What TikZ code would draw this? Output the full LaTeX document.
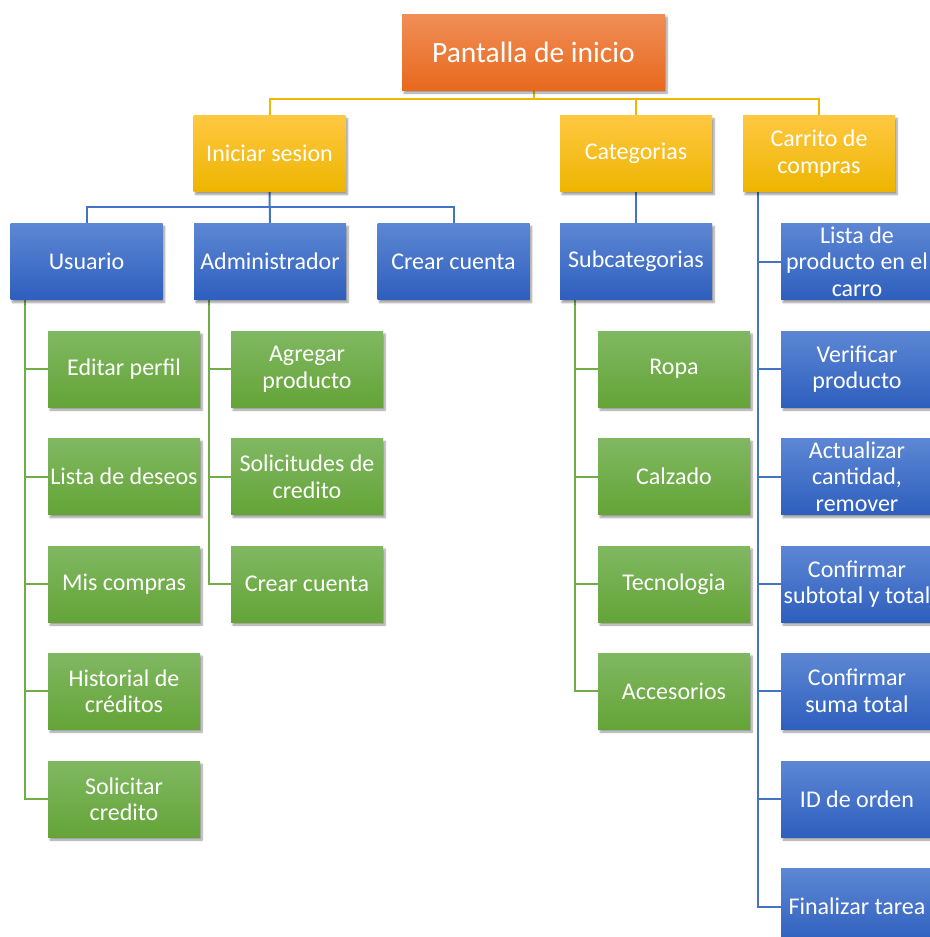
\documentclass[tikz,border=0pt]{standalone}
\usepackage{fontspec}
\setmainfont{Carlito}
\usetikzlibrary{calc,shadows.blur}
\pgfdeclarelayer{background}
\pgfsetlayers{background,main}

\definecolor{orgT}{HTML}{F08E57}
\definecolor{orgB}{HTML}{E8691D}
\definecolor{yelT}{HTML}{FFC842}
\definecolor{yelB}{HTML}{EDB500}
\definecolor{bluT}{HTML}{5D87D4}
\definecolor{bluB}{HTML}{2E5FBE}
\definecolor{grnT}{HTML}{80B862}
\definecolor{grnB}{HTML}{64A437}
\definecolor{goldline}{HTML}{F2B800}
\definecolor{blueline}{HTML}{4472C4}
\definecolor{greenline}{HTML}{70AD47}

\tikzset{
  x=1pt, y=-1pt,
  box/.style={rectangle, minimum width=152pt, minimum height=76pt,
    inner sep=1pt, align=center, text=white,
    font=\fontsize{24}{26.5}\selectfont,
    blur shadow={shadow xshift=2pt, shadow yshift=-3pt,
      shadow blur steps=6, shadow opacity=40}},
  orgbox/.style={box, top color=orgT, bottom color=orgB,
    minimum width=263pt, font=\fontsize{29.5}{32}\selectfont},
  yelbox/.style={box, top color=yelT, bottom color=yelB},
  blubox/.style={box, top color=bluT, bottom color=bluB},
  grnbox/.style={box, top color=grnT, bottom color=grnB},
  goldconn/.style={draw=goldline, line width=2pt},
  blueconn/.style={draw=blueline, line width=2pt},
  greenconn/.style={draw=greenline, line width=2pt},
}

\begin{document}
\begin{tikzpicture}
\useasboundingbox (0,0) rectangle (929,937);

% root and first level
\node[orgbox] (root) at (533.5,52) {Pantalla de inicio};
\node[yelbox] (ini) at (269.5,153.5) {Iniciar sesion};
\node[yelbox] (cat) at (636,153.5) {Categorias};
\node[yelbox] (car) at (819,153.5) {Carrito de\\compras};

% second level
\node[blubox] (usu) at (86.5,261.5) {Usuario};
\node[blubox] (adm) at (270,261.5) {Administrador};
\node[blubox] (crc) at (453.5,261.5) {Crear cuenta};
\node[blubox] (sub) at (636,261.5) {Subcategorias};

% user branch
\node[grnbox] (e1) at (124,369) {Editar perfil};
\node[grnbox] (e2) at (124,476.5) {Lista de deseos};
\node[grnbox] (e3) at (124,584) {Mis compras};
\node[grnbox] (e4) at (124,691) {Historial de\\créditos};
\node[grnbox] (e5) at (124,799) {Solicitar\\credito};

% admin branch
\node[grnbox] (a1) at (307,369) {Agregar\\producto};
\node[grnbox] (a2) at (307,476.5) {Solicitudes de\\credito};
\node[grnbox] (a3) at (307,584) {Crear cuenta};

% subcategories
\node[grnbox] (s1) at (674,369) {Ropa};
\node[grnbox] (s2) at (674,476.5) {Calzado};
\node[grnbox] (s3) at (674,584) {Tecnologia};
\node[grnbox] (s4) at (674,691) {Accesorios};

% cart steps
\node[blubox] (c1) at (857,261.5) {Lista de\\producto en el\\carro};
\node[blubox] (c2) at (857,369) {Verificar\\producto};
\node[blubox] (c3) at (857,476.5) {Actualizar\\cantidad,\\remover};
\node[blubox] (c4) at (857,584) {Confirmar\\subtotal y total};
\node[blubox] (c5) at (857,691) {Confirmar\\suma total};
\node[blubox] (c6) at (857,799) {ID de orden};
\node[blubox] (c7) at (857,906.5) {Finalizar tarea};

% connectors behind the boxes
\begin{pgfonlayer}{background}
\coordinate (bus1) at (533.5,99);
\coordinate (bus2) at (270,207);
\coordinate (u0) at ($(usu.south west)+(15,0)$);
\coordinate (m0) at ($(adm.south west)+(15,0)$);
\coordinate (s0) at ($(sub.south west)+(15,0)$);
\coordinate (k0) at ($(car.south west)+(15,0)$);

\path[goldconn] (root.south) -- (bus1);
\path[goldconn] (ini.north) |- (bus1) -| (car.north);
\path[goldconn] (cat.north) -- (cat.north |- bus1);

\path[blueconn] (ini.south) -- (adm.north);
\path[blueconn] (usu.north) |- (bus2) -| (crc.north);
\path[blueconn] (cat.south) -- (sub.north);

\foreach \n in {e1,e2,e3,e4,e5} \path[greenconn] (u0) |- (\n.west);
\foreach \n in {a1,a2,a3} \path[greenconn] (m0) |- (\n.west);
\foreach \n in {s1,s2,s3,s4} \path[greenconn] (s0) |- (\n.west);
\foreach \n in {c1,c2,c3,c4,c5,c6,c7} \path[blueconn] (k0) |- (\n.west);
\end{pgfonlayer}
\end{tikzpicture}
\end{document}
